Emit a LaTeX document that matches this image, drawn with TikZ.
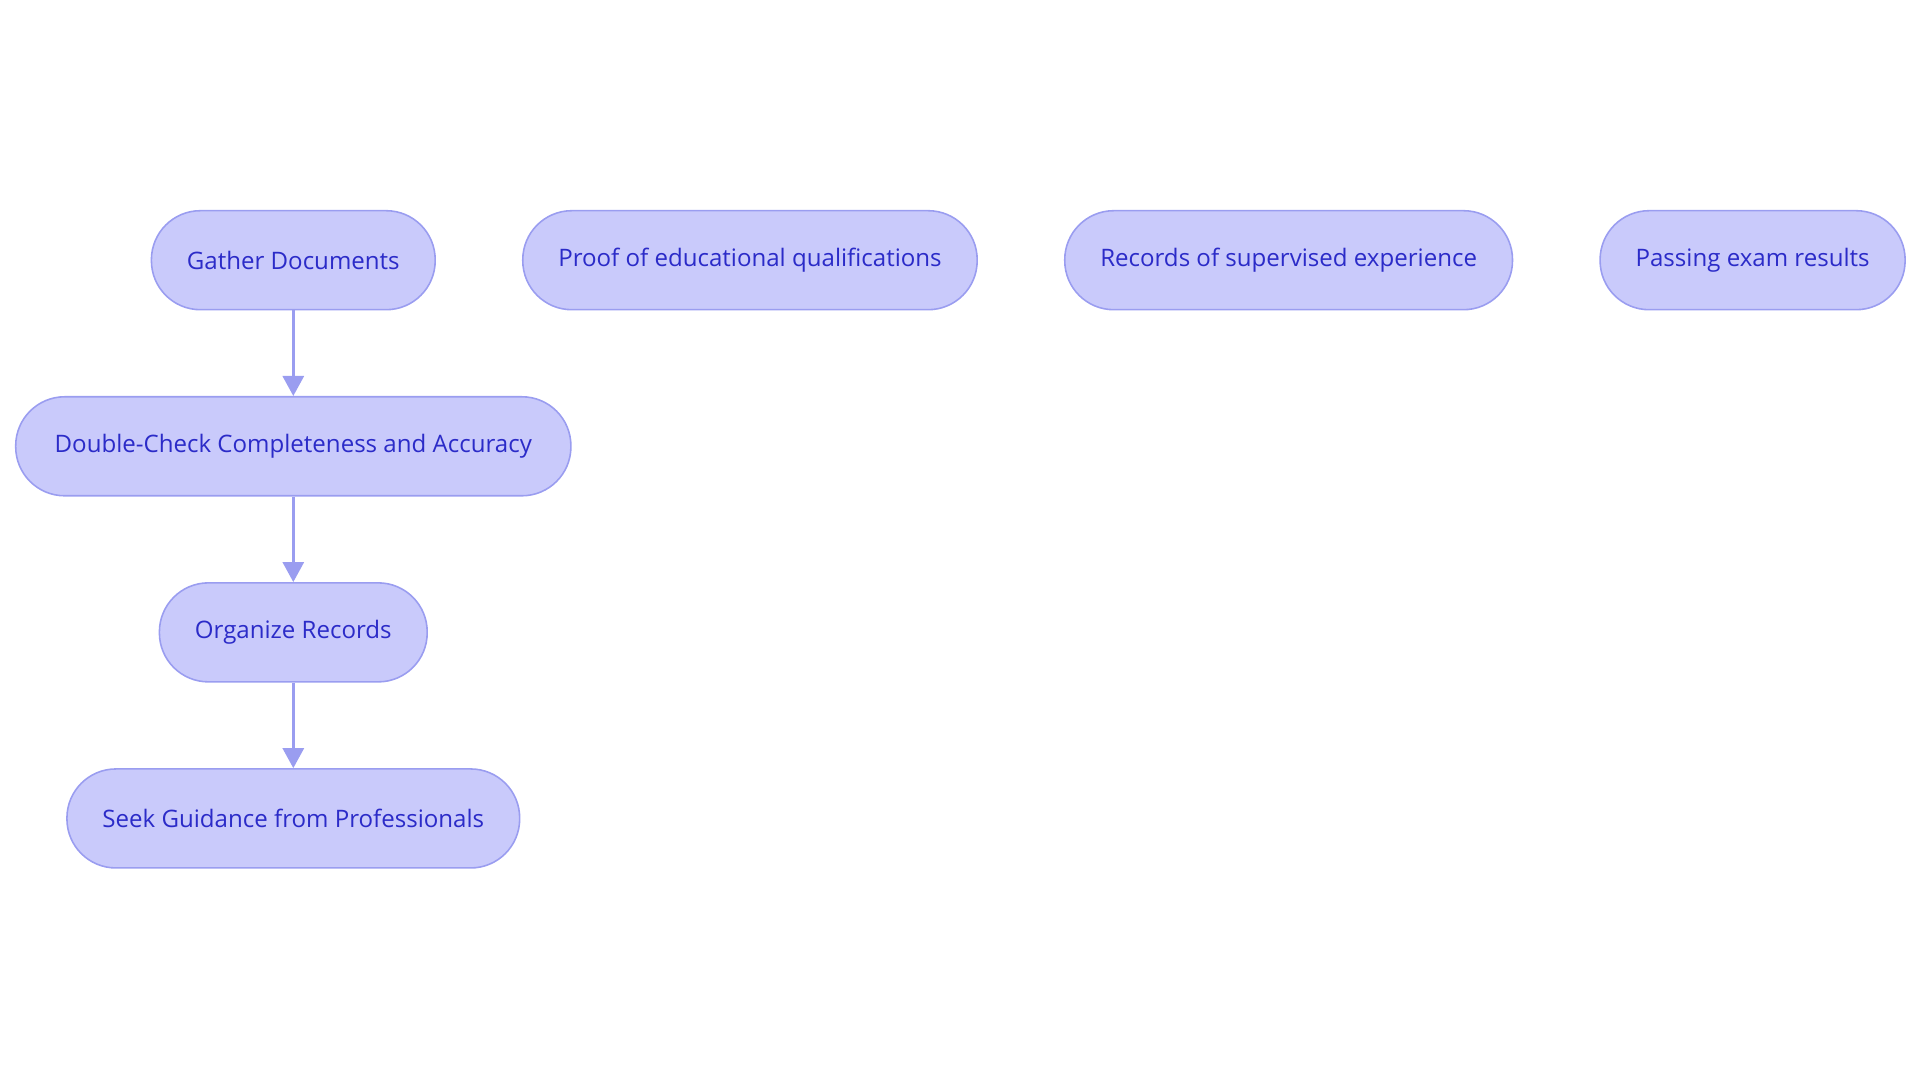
\documentclass[tikz,border=0pt]{standalone}
\usepackage{fontspec}
\setmainfont{Open Sans}
\usetikzlibrary{arrows.meta,positioning}
\definecolor{stepfill}{HTML}{C9CAFB}
\definecolor{stepline}{HTML}{9A9DF0}
\definecolor{steptext}{HTML}{2B2BC8}
\tikzset{
  stepbox/.style={
    draw=stepline,
    line width=0.45pt,
    fill=stepfill,
    text=steptext,
    rounded corners=0.49cm,
    minimum height=0.99cm,
    inner xsep=0.355cm,
    font=\fontsize{6.85pt}{9pt}\selectfont
  },
  arrow/.style={-{Triangle[length=0.2cm,width=0.21cm]},line width=0.85pt,draw=stepline}
}

\begin{document}
\begin{tikzpicture}[node distance=0.855cm and 0.86cm]
  \useasboundingbox (0,0) rectangle (19.2,-10.83);
  \node[stepbox] (gather) at (2.933,-2.602) {Gather Documents};
  \node[stepbox, right=of gather] (proof) {Proof of educational qualifications};
  \node[stepbox, right=of proof] (records) {Records of supervised experience};
  \node[stepbox, right=of records] (passing) {Passing exam results};

  \node[stepbox, below=of gather, inner xsep=0.39cm] (check) {Double-Check Completeness and Accuracy};
  \node[stepbox, below=of check] (organize) {Organize Records};
  \node[stepbox, below=of organize] (seek) {Seek Guidance from Professionals};

  \draw[arrow] (gather) -- (check);
  \draw[arrow] (check) -- (organize);
  \draw[arrow] (organize) -- (seek);
\end{tikzpicture}
\end{document}
